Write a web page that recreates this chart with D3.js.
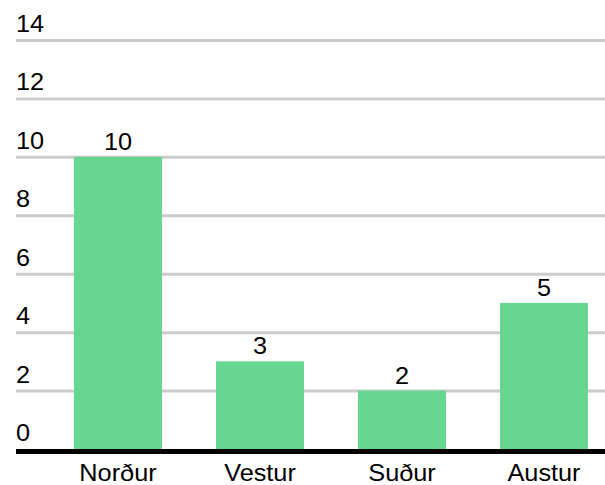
<!DOCTYPE html>
<html><head><meta charset="utf-8">
<script src="https://cdn.jsdelivr.net/npm/d3@7"></script>
<style>body{margin:0;background:#fff}svg{display:block}text{font-family:Arial,"Liberation Sans",sans-serif;fill:#000}</style>
</head><body><svg id="c" width="605" height="485"></svg>
<script>
const categories = ["Norður","Vestur","Suður","Austur"];
const values = [10,3,2,5];
const yTicks = [0,2,4,6,8,10,12,14];

const svg = d3.select("#c");
const W = 605, H = 485;
const left = 16;
const y = d3.scaleLinear().domain([0,14]).range([449,40]);
const x = d3.scaleBand().domain(categories).range([47,615]).paddingInner(0.38).paddingOuter(0.19);
const sx = 1.1, fs = 23;

// gridlines
svg.append("g").selectAll("line").data(yTicks.filter(d=>d>0)).join("line")
  .attr("x1",left).attr("x2",W).attr("y1",d=>y(d)+0.5).attr("y2",d=>y(d)+0.5)
  .attr("stroke","#cccccc").attr("stroke-width",3);

// tick labels
svg.append("g").selectAll("text").data(yTicks).join("text")
  .attr("transform",d=>`translate(${left},${y(d)-8}) scale(${sx},1)`)
  .attr("font-size",fs).text(d=>d);

// bars
svg.append("g").selectAll("rect").data(values).join("rect")
  .attr("x",(d,i)=>x(categories[i])).attr("width",x.bandwidth())
  .attr("y",d=>y(d)).attr("height",d=>y(0)-y(d))
  .attr("fill","#66d690");

// value labels
svg.append("g").selectAll("text").data(values).join("text")
  .attr("transform",(d,i)=>`translate(${x(categories[i])+x.bandwidth()/2},${y(d)-7}) scale(${sx},1)`)
  .attr("text-anchor","middle").attr("font-size",fs).text(d=>d);

// baseline
svg.append("line").attr("x1",left).attr("x2",W).attr("y1",y(0)+2.5).attr("y2",y(0)+2.5)
  .attr("stroke","#000").attr("stroke-width",5);

// category labels
svg.append("g").selectAll("text").data(categories).join("text")
  .attr("transform",d=>`translate(${x(d)+x.bandwidth()/2},481) scale(${sx},1)`)
  .attr("text-anchor","middle").attr("font-size",fs).text(d=>d);
</script></body></html>
